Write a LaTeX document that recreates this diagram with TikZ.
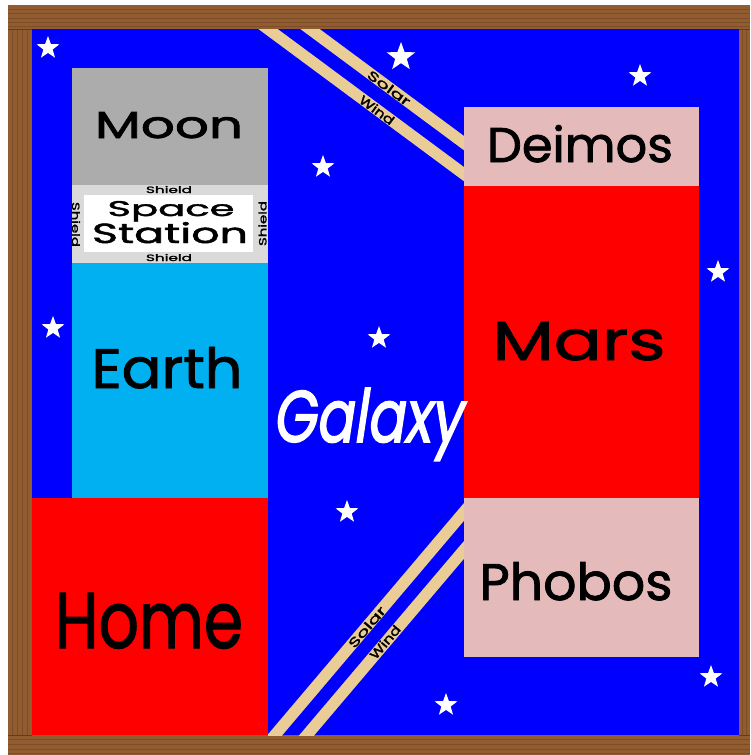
\documentclass[tikz,border=0pt]{standalone}
\usepackage{fontspec}
\setmainfont{Poppins}
\newfontfamily\lblfont[FakeBold=1.6]{Poppins}
\newfontfamily\galfont[FakeSlant=0.2,FakeBold=2.2]{Poppins}
\usetikzlibrary{shapes.geometric}
\definecolor{spaceblue}{RGB}{0,0,255}
\definecolor{wood}{RGB}{145,92,48}
\definecolor{wooddark}{RGB}{100,60,28}
\definecolor{moongray}{RGB}{172,172,172}
\definecolor{shieldgray}{RGB}{218,218,218}
\definecolor{earthcyan}{RGB}{0,176,240}
\definecolor{pinkrock}{RGB}{228,186,186}
\definecolor{sand}{RGB}{234,204,150}
\newcommand\fit[3]{\resizebox{#1pt}{#2pt}{\lblfont #3}}
\begin{document}
\begin{tikzpicture}[x=1pt,y=-1pt,
  lbl/.style={inner sep=0, anchor=base, text=black},
  bandtext/.style={inner sep=0, anchor=center, text=black},
  starnode/.style={star, star points=5, star point ratio=2.45, fill=white, draw=none, inner sep=0, minimum size=#1},
  band/.style={draw=sand, line width=11.5pt},
  grain/.style={draw=wooddark, line width=0.7pt, opacity=0.45}]
\useasboundingbox (0,0) rectangle (750,755);
\fill[white] (0,0) rectangle (750,755);
% frame
\fill[wood] (8,5) rectangle (750,755);
\foreach \y in {9,13,18,22,26} \draw[grain] (8,\y) -- (750,\y);
\foreach \y in {739,744,749,753} \draw[grain] (8,\y) -- (750,\y);
\foreach \x in {12,17,22,27} \draw[grain] (\x,29) -- (\x,735);
\foreach \x in {742,746} \draw[grain] (\x,29) -- (\x,735);
\draw[wooddark, line width=0.8pt] (8,29) -- (32,29) (8,735) -- (32,735) (739,29) -- (750,29) (739,735) -- (750,735);
\fill[spaceblue] (32,29) rectangle (739,735);
% bodies
\fill[moongray] (72,68) rectangle (268,185);
\fill[shieldgray] (72,185) rectangle (268,263);
\fill[white] (84,195) rectangle (253,252);
\fill[earthcyan] (72,263) rectangle (268,498);
\fill[red] (32,498) rectangle (268,735);
\fill[pinkrock] (464,107) rectangle (699,186);
\fill[red] (464,186) rectangle (699,498);
\fill[pinkrock] (464,498) rectangle (699,657);
% solar wind bands
\begin{scope}
  \clip (250,29) rectangle (464,200);
  \draw[band] (241,9) -- (480,186);
  \draw[band] (283,9) -- (480,155);
\end{scope}
\begin{scope}
  \clip (268,480) rectangle (464,735);
  \draw[band] (258,755) -- (480,493);
  \draw[band] (290,755) -- (480,531);
\end{scope}
\node[bandtext, rotate=-36.5] (solar1) at (389,88) {\fit{50}{9.5}{Solar}};
\node[bandtext, rotate=-36.5] (wind1) at (377,110) {\fit{40}{9.5}{Wind}};
\node[bandtext, rotate=49.7] (solar2) at (367,627) {\fit{50}{9.5}{Solar}};
\node[bandtext, rotate=49.7] (wind2) at (385,642) {\fit{40}{9.5}{Wind}};
% stars
\node[starnode=24pt] (s1) at (48,48) {};
\node[starnode=30pt] (s2) at (401,57) {};
\node[starnode=24pt] (s3) at (640,76) {};
\node[starnode=24pt] (s4) at (323,167) {};
\node[starnode=24pt] (s5) at (718,272) {};
\node[starnode=24pt] (s6) at (53,328) {};
\node[starnode=24pt] (s7) at (379,338) {};
\node[starnode=24pt] (s8) at (347,512) {};
\node[starnode=24pt] (s9) at (711,677) {};
\node[starnode=24pt] (s10) at (446,705) {};
% labels
\node[lbl] (moon) at (169,138) {\fit{148}{26}{Moon}};
\node[lbl] (space) at (171,216) {\fit{127}{15}{Space}};
\node[lbl] (station) at (170,243) {\fit{156}{21}{Station}};
\node[lbl] (shieldT) at (169,193) {\fit{46}{7}{Shield}};
\node[lbl] (shieldB) at (169,261) {\fit{46}{7}{Shield}};
\node[bandtext, rotate=-90] (shieldL) at (76,224.5) {\fit{45}{8}{Shield}};
\node[bandtext, rotate=90] (shieldR) at (262.5,223.5) {\fit{45}{8}{Shield}};
\node[lbl] (earth) at (167,388) {\fit{151}{41}{Earth}};
\node[lbl] (home) at (149,648) {\fit{188}{55}{Home}};
\node[lbl] (deimos) at (580,162) {\fit{186}{37}{Deimos}};
\node[lbl] (mars) at (579,360) {\fit{173}{38}{Mars}};
\node[lbl] (phobos) at (576,600) {\fit{193}{38}{Phobos}};
\node[lbl, text=white] (galaxy) at (367,442) {\resizebox{189pt}{54pt}{\galfont Galaxy}};
\end{tikzpicture}
\end{document}
